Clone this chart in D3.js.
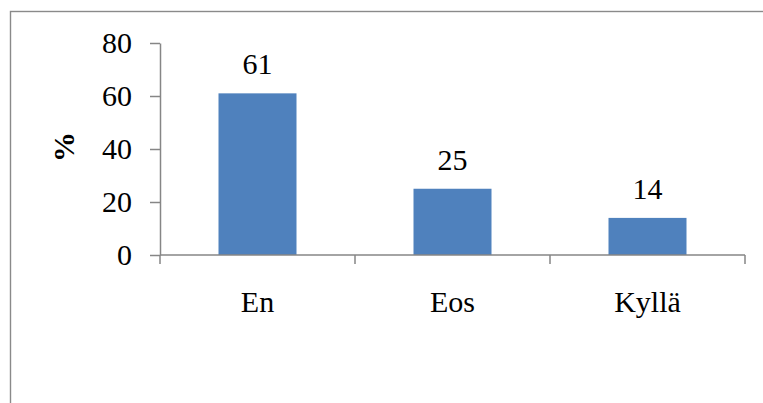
<!DOCTYPE html>
<html>
<head>
<meta charset="utf-8">
<script src="https://cdn.jsdelivr.net/npm/d3@7"></script>
<style>
  html, body { margin: 0; padding: 0; background: #fff; }
  svg { display: block; }
</style>
</head>
<body>
<svg id="chart" width="763" height="403"></svg>
<script>
// Survey answers and their shares (%)
const categories = ["En", "Eos", "Kyllä"];
const values = [61, 25, 14];
const yTicks = [0, 20, 40, 60, 80];
const yTitle = "%";

const FONT = "Liberation Serif";
const svg = d3.select("#chart");
const W = 763, H = 403;

// Outer chart frame (right and bottom edges fall outside the view)
svg.append("rect")
  .attr("x", 10.5).attr("y", 11.5)
  .attr("width", W + 20).attr("height", H + 20)
  .attr("fill", "none")
  .attr("stroke", "#8a8a8a")
  .attr("stroke-width", 1.4);

const plot = { left: 160, right: 745, top: 43, bottom: 255 };

const x = d3.scaleBand()
  .domain(categories)
  .range([plot.left, plot.right])
  .paddingInner(0.6)
  .paddingOuter(0.3);

const y = d3.scaleLinear()
  .domain([0, 80])
  .range([plot.bottom, plot.top]);

const axisColor = "#868686";

// Bars
svg.append("g").selectAll("rect")
  .data(values)
  .join("rect")
  .attr("x", (d, i) => x(categories[i]))
  .attr("y", d => y(d))
  .attr("width", x.bandwidth())
  .attr("height", d => y(0) - y(d))
  .attr("fill", "#4f81bd");

// Value labels above bars
svg.append("g").selectAll("text")
  .data(values)
  .join("text")
  .attr("x", (d, i) => x(categories[i]) + x.bandwidth() / 2)
  .attr("y", d => y(d) - 19)
  .attr("text-anchor", "middle")
  .attr("font-family", FONT)
  .attr("font-size", 30)
  .attr("fill", "#000")
  .text(d => d);

// Y axis
const yAxis = svg.append("g")
  .attr("transform", `translate(${plot.left},0)`)
  .call(d3.axisLeft(y).tickValues(yTicks).tickSize(10).tickPadding(18).tickSizeOuter(0))
  .attr("font-family", FONT)
  .attr("font-size", 30);
yAxis.select(".domain").attr("stroke", axisColor).attr("stroke-width", 1.5);
yAxis.selectAll(".tick line").attr("stroke", axisColor).attr("stroke-width", 1.5);
yAxis.selectAll(".tick text").attr("fill", "#000");

// X axis: ticks sit on the category boundaries
const boundaries = d3.range(categories.length + 1)
  .map(i => plot.left + i * x.step());
const xAxis = svg.append("g");
xAxis.append("line")
  .attr("x1", plot.left).attr("x2", plot.right)
  .attr("y1", plot.bottom).attr("y2", plot.bottom)
  .attr("stroke", axisColor).attr("stroke-width", 1.5);
xAxis.selectAll("line.tick")
  .data(boundaries)
  .join("line")
  .attr("class", "tick")
  .attr("x1", d => d).attr("x2", d => d)
  .attr("y1", plot.bottom).attr("y2", plot.bottom + 9)
  .attr("stroke", axisColor).attr("stroke-width", 1.5);
xAxis.selectAll("text")
  .data(categories)
  .join("text")
  .attr("x", d => x(d) + x.bandwidth() / 2)
  .attr("y", 312)
  .attr("text-anchor", "middle")
  .attr("font-family", FONT)
  .attr("font-size", 30)
  .attr("fill", "#000")
  .text(d => d);

// Y axis title
svg.append("text")
  .attr("transform", "translate(74,147) rotate(-90)")
  .attr("text-anchor", "middle")
  .attr("font-family", FONT)
  .attr("font-size", 30)
  .attr("font-weight", "bold")
  .attr("fill", "#000")
  .text(yTitle);
</script>
</body>
</html>
